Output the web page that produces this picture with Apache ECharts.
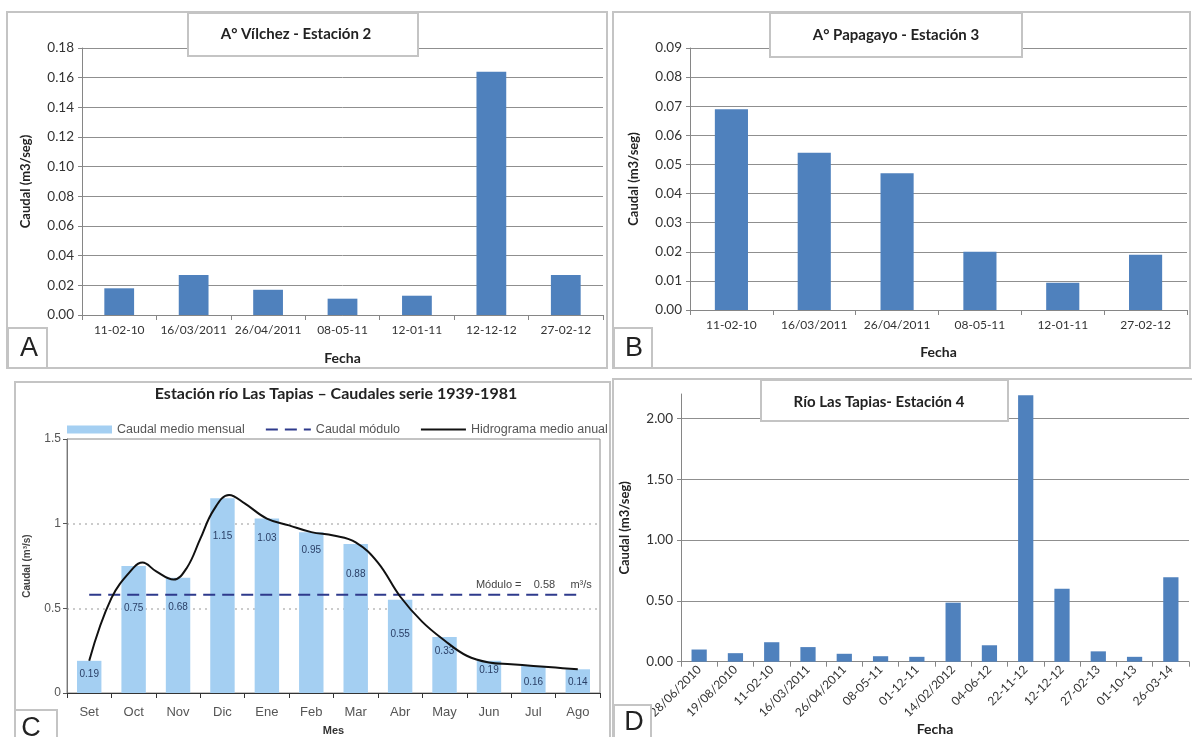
<!DOCTYPE html>
<html>
<head>
<meta charset="utf-8">
<script src="https://cdn.jsdelivr.net/npm/echarts@6/dist/echarts.min.js"></script>
<style>
  html, body { margin: 0; padding: 0; background: #fff; }
  #chart { width: 1192px; height: 737px; }
</style>
</head>
<body>
<div id="chart"></div>
<script>
// A° Vílchez - Estación 2
const fechasA = ['11-02-10', '16/03/2011', '26/04/2011', '08-05-11', '12-01-11', '12-12-12', '27-02-12'];
const caudalA = [0.018, 0.027, 0.017, 0.011, 0.013, 0.164, 0.027];

// A° Papagayo - Estación 3
const fechasB = ['11-02-10', '16/03/2011', '26/04/2011', '08-05-11', '12-01-11', '27-02-12'];
const caudalB = [0.069, 0.054, 0.047, 0.020, 0.0094, 0.019];

// Estación río Las Tapias - serie 1939-1981
const meses = ['Set', 'Oct', 'Nov', 'Dic', 'Ene', 'Feb', 'Mar', 'Abr', 'May', 'Jun', 'Jul', 'Ago'];
const caudalMensual = [0.19, 0.75, 0.68, 1.15, 1.03, 0.95, 0.88, 0.55, 0.33, 0.19, 0.16, 0.14];
const caudalModulo = 0.58;
// hidrograma medio anual (posición en meses desde Set, caudal)
const hidroMes = [0, 0.5, 1, 1.2, 1.5, 1.9, 2.2, 2.5, 2.8, 3.15, 3.5, 4, 4.5, 5, 5.5, 6, 6.5, 7, 7.5, 8, 8.5, 9, 9.5, 10, 10.5, 11];
const hidroCaudal = [0.19, 0.56, 0.74, 0.77, 0.72, 0.67, 0.74, 0.91, 1.08, 1.17, 1.12, 1.03, 0.99, 0.95, 0.93, 0.89, 0.77, 0.57, 0.42, 0.31, 0.22, 0.18, 0.17, 0.16, 0.15, 0.14];
// desplazamiento vertical de cada etiqueta de barra (px)
const etiquetaDesplaz = [3, 32, 19, 28, 10, 8, 20, 24, 4, -1, 6, 3];

// Río Las Tapias - Estación 4
const fechasD = ['28/06/2010', '19/08/2010', '11-02-10', '16/03/2011', '26/04/2011', '08-05-11', '01-12-11',
                 '14/02/2012', '04-06-12', '22-11-12', '12-12-12', '27-02-13', '01-10-13', '26-03-14'];
const caudalD = [0.10, 0.07, 0.16, 0.12, 0.065, 0.045, 0.04, 0.485, 0.135, 2.19, 0.60, 0.085, 0.04, 0.695];

const XL = 'Lato, "Open Sans", sans-serif';
const AR = '"Liberation Sans", Arial, sans-serif';
const azul = '#4f81bd';
const gris = '#8f8f8f';

function ejeCat(grid, data, extra) {
  return Object.assign({
    type: 'category', gridIndex: grid, data: data,
    axisLine: { lineStyle: { color: '#868686' } },
    axisTick: { show: true, length: 5, lineStyle: { color: '#868686' } },
    axisLabel: { interval: 0, color: '#333', fontFamily: XL, fontSize: 12, margin: 9 },
    name: 'Fecha', nameLocation: 'middle',
    nameTextStyle: { fontFamily: XL, fontWeight: 'bold', fontSize: 14, color: '#222' }
  }, extra);
}

function ejeVal(grid, max, step, extra) {
  return Object.assign({
    type: 'value', gridIndex: grid, min: 0, max: max, interval: step,
    axisLine: { show: true, lineStyle: { color: '#868686' } },
    axisTick: { show: true, length: 4, lineStyle: { color: '#868686' } },
    axisLabel: { color: '#333', fontFamily: XL, fontSize: 13.5, margin: 8,
                 formatter: v => v.toFixed(2) },
    splitLine: { show: true, lineStyle: { color: gris, width: 1 } },
    name: 'Caudal (m3/seg)', nameLocation: 'middle', nameRotate: 90,
    nameTextStyle: { fontFamily: XL, fontWeight: 'bold', fontSize: 13, color: '#222' }
  }, extra);
}

function caja(x, y, w, h, z) {
  return { type: 'rect', shape: { x: x, y: y, width: w, height: h }, z: z || 0,
           style: { fill: z ? '#fff' : 'none', stroke: '#c4c4c4', lineWidth: 2 } };
}
function texto(x, y, t, size, weight, fam, z) {
  return { type: 'text', x: x, y: y, z: z || 101,
           style: { text: t, fontSize: size, fontWeight: weight, fontFamily: fam, fill: '#222',
                    align: 'center', verticalAlign: 'middle' } };
}

const sinSimbolo = { color: 'rgba(0,0,0,0)', borderWidth: 0 };

const chart = echarts.init(document.getElementById('chart'), null, { renderer: 'canvas' });

chart.setOption({
  animation: false,
  backgroundColor: '#fff',
  grid: [
    { left: 82, top: 48, width: 521, height: 267 },
    { left: 690, top: 48, width: 497, height: 262 },
    { left: 67, top: 439, width: 533, height: 262, show: true, borderColor: '#888', borderWidth: 1 },
    { left: 681, top: 394, width: 508, height: 272 }
  ],
  legend: {
    left: 62, top: 418, itemWidth: 45, itemHeight: 8, itemGap: 20,
    textStyle: { fontFamily: AR, fontSize: 12.5, color: '#555' },
    data: [
      { name: 'Caudal medio mensual', icon: 'rect' },
      { name: 'Caudal módulo', itemStyle: sinSimbolo },
      { name: 'Hidrograma medio anual', itemStyle: sinSimbolo }
    ]
  },
  xAxis: [
    ejeCat(0, fechasA, { nameGap: 36 }),
    ejeCat(1, fechasB, { nameGap: 35 }),
    {
      type: 'category', gridIndex: 2, data: meses,
      axisLine: { lineStyle: { color: '#333' } },
      axisTick: { show: true, length: 5, lineStyle: { color: '#333' } },
      axisLabel: { interval: 0, color: '#555', fontFamily: AR, fontSize: 13, margin: 13 },
      name: 'Mes', nameLocation: 'middle', nameGap: 32,
      nameTextStyle: { fontFamily: AR, fontWeight: 'bold', fontSize: 11, color: '#333' }
    },
    { type: 'value', gridIndex: 2, min: -0.5, max: 11.5, show: false },
    ejeCat(3, fechasD, {
      nameGap: 55,
      axisLabel: { interval: 0, rotate: 45, color: '#333', fontFamily: XL, fontSize: 12, margin: 6 }
    })
  ],
  yAxis: [
    ejeVal(0, 0.18, 0.02, { nameGap: 50 }),
    ejeVal(1, 0.09, 0.01, { nameGap: 50 }),
    {
      type: 'value', gridIndex: 2, min: 0, max: 1.5, interval: 0.5,
      axisLine: { show: true, onZero: false, lineStyle: { color: '#777' } },
      axisTick: { show: true, length: 4, lineStyle: { color: '#555' } },
      axisLabel: { color: '#555', fontFamily: AR, fontSize: 12, margin: 6, formatter: v => String(v) },
      splitLine: { show: true, showMinLine: false, showMaxLine: false,
                   lineStyle: { color: '#bbb', type: [2, 4], width: 1.5 } },
      name: 'Caudal (m³/s)', nameLocation: 'middle', nameRotate: 90, nameGap: 35,
      nameTextStyle: { fontFamily: AR, fontWeight: 'bold', fontSize: 10, color: '#444' }
    },
    ejeVal(3, 2.2, 0.5, {
      nameGap: 50,
      axisLabel: { color: '#333', fontFamily: XL, fontSize: 13.5, margin: 8, showMaxLabel: false,
                   formatter: v => (Math.abs(v * 2 - Math.round(v * 2)) < 1e-9 ? v.toFixed(2) : '') },
      splitLine: { show: true, showMaxLine: false, lineStyle: { color: gris, width: 1 } }
    })
  ],
  series: [
    { type: 'bar', xAxisIndex: 0, yAxisIndex: 0, data: caudalA, barWidth: '40%',
      itemStyle: { color: azul } },
    { type: 'bar', xAxisIndex: 1, yAxisIndex: 1, data: caudalB, barWidth: '40%',
      itemStyle: { color: azul } },
    { name: 'Caudal medio mensual', type: 'bar', xAxisIndex: 2, yAxisIndex: 2, barWidth: '55%',
      itemStyle: { color: '#a4cff2' },
      label: { show: true, position: 'insideTop', distance: 5, fontFamily: AR, fontSize: 10, color: '#2a3f66',
               formatter: p => p.value.toFixed(2) },
      data: caudalMensual.map((v, i) => ({ value: v, label: { offset: [0, etiquetaDesplaz[i]] } })) },
    { name: 'Caudal módulo', type: 'line', xAxisIndex: 2, yAxisIndex: 2, symbol: 'none',
      lineStyle: { color: '#2e3a8c', width: 2, type: [12, 7] }, itemStyle: { color: '#2e3a8c' },
      endLabel: { show: true, align: 'right', verticalAlign: 'bottom', distance: 0, offset: [14, -4],
                  fontFamily: AR, fontSize: 11, color: '#444',
                  formatter: () => 'Módulo =    ' + caudalModulo.toFixed(2) + '     m³/s' },
      data: [[meses[0], caudalModulo], [meses[meses.length - 1], caudalModulo]] },
    { name: 'Hidrograma medio anual', type: 'line', xAxisIndex: 3, yAxisIndex: 2, symbol: 'none',
      smooth: 0.4, lineStyle: { color: '#111', width: 2 }, itemStyle: { color: '#111' },
      data: hidroMes.map((m, i) => [m, hidroCaudal[i]]) },
    { type: 'bar', xAxisIndex: 4, yAxisIndex: 3, data: caudalD, barWidth: '42%',
      itemStyle: { color: azul } }
  ],
  graphic: [
    // marcos de los paneles
    caja(7, 12, 600, 356),
    caja(613, 12, 577, 356),
    caja(15, 382, 595, 370),
    caja(613, 379, 600, 370),
    // recuadros de título
    caja(188, 13, 230, 43, 100),
    texto(296, 34, 'A° Vílchez - Estación 2', 15, 'bold', XL),
    caja(770, 13, 252, 44, 100),
    texto(896, 35, 'A° Papagayo - Estación 3', 15, 'bold', XL),
    caja(761, 380, 247, 41, 100),
    texto(879, 402, 'Río Las Tapias- Estación 4', 15, 'bold', XL),
    texto(336, 394, 'Estación río Las Tapias – Caudales serie 1939-1981', 16, 'bold', XL),
    // letras de panel
    caja(8, 328, 39, 40, 100),
    texto(29, 349, 'A', 27, 'normal', AR),
    caja(614, 328, 38, 40, 100),
    texto(634, 349, 'B', 27, 'normal', AR),
    caja(15, 710, 42, 40, 100),
    texto(31, 729, 'C', 27, 'normal', AR),
    caja(614, 705, 37, 40, 100),
    texto(634, 723, 'D', 27, 'normal', AR)
  ]
});
</script>
</body>
</html>
